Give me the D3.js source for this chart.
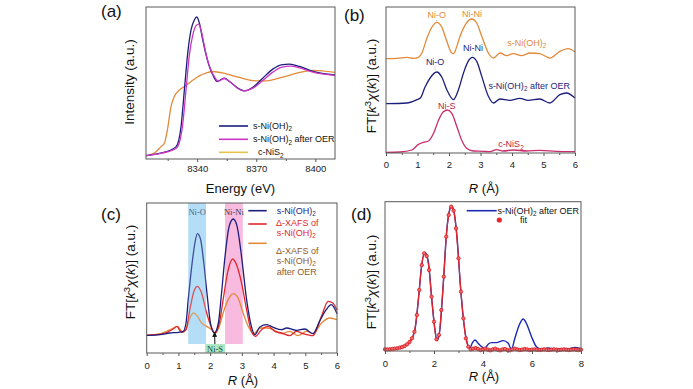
<!DOCTYPE html>
<html>
<head>
<meta charset="utf-8">
<script src="https://cdn.jsdelivr.net/npm/d3@7"></script>
<style>
  body { margin: 0; background: #fff; }
  svg { display: block; font-family: Arial, 'Liberation Sans', sans-serif; white-space: pre; }
</style>
</head>
<body>
<svg id="fig" width="693" height="389"></svg>
<script>
'use strict';

// ---- (a) Ni K-edge XANES ----
var eNiOH = [8314, 8320.8, 8322.5, 8329.3, 8331.8, 8333.5, 8335.2, 8336.9, 8338.6, 8339.8, 8341.1, 8342.8, 8344.5, 8346.2, 8347.9, 8350.1, 8353.8, 8356.4, 8361.5, 8364, 8368.3, 8373.3, 8378.4, 8382.7, 8386.9, 8392, 8398.8, 8410];
var muNiOH = [10, 17, 19, 37, 97, 207, 317, 387, 417, 425, 407, 357, 312, 277, 252, 232, 242, 232, 209, 204, 215, 242, 269, 282, 284, 277, 262, 252];
var eNiOHOER = [8314, 8322.5, 8329.5, 8332.5, 8334.3, 8336, 8337.8, 8339.5, 8340.8, 8342, 8343.6, 8345.3, 8347, 8348.8, 8350.5, 8353.8, 8356.4, 8361.5, 8364, 8368.3, 8373.3, 8378.4, 8382.7, 8387.5, 8392, 8398.8, 8410];
var muNiOHOER = [10, 18, 33, 97, 205, 310, 372, 400, 404, 385, 340, 295, 266, 246, 233, 241, 232, 208, 204, 212, 235, 260, 274, 278, 273, 260, 250];
var eNiS2 = [8314, 8319.1, 8321.6, 8323.3, 8325, 8326.7, 8328.4, 8331, 8333.5, 8336.9, 8341.1, 8344.5, 8347.9, 8354.7, 8361.5, 8370, 8375.1, 8383.5, 8392, 8398.8, 8410];
var muNiS2 = [10, 22, 37, 47, 92, 157, 187, 207, 217, 232, 249, 257, 262, 255, 244, 234, 234, 245, 259, 265, 259];
var ticksA = [8340, 8370, 8400];
var minorA = [8325, 8355, 8385];

// ---- (b) FT-EXAFS, stacked ----
var rNiOH = [0, 0.35, 0.66, 0.88, 1.03, 1.14, 1.30, 1.46, 1.61, 1.77, 1.93, 2.09, 2.14, 2.19, 2.35, 2.54, 2.72, 2.88, 3.04, 3.25, 3.41, 3.62, 3.83, 4.04, 4.30, 4.57, 4.88, 5.20, 5.52, 5.78, 6.0];
var ftNiOH = [283, 284, 287, 284, 287, 300, 345, 378, 392, 378, 335, 300, 298, 305, 350, 388, 402, 390, 350, 300, 285, 300, 292, 298, 292, 300, 298, 285, 305, 313, 303];
var rNiOHOER = [0, 0.66, 0.98, 1.09, 1.24, 1.40, 1.61, 1.77, 1.93, 2.14, 2.30, 2.46, 2.62, 2.74, 2.88, 3.04, 3.25, 3.41, 3.62, 3.93, 4.25, 4.51, 4.88, 5.20, 5.52, 5.73, 6.0];
var ftNiOHOER = [148, 150, 160, 165, 198, 225, 243, 228, 190, 160, 190, 240, 277, 287, 275, 230, 170, 150, 162, 158, 164, 158, 162, 150, 175, 180, 165];
var rNiS2 = [0, 0.45, 0.82, 1.03, 1.19, 1.35, 1.51, 1.67, 1.82, 1.95, 2.09, 2.25, 2.40, 2.56, 2.77, 3.09, 3.30, 3.51, 3.72, 4.04, 4.46, 4.88, 5.41, 6.0];
var ftNiS2 = [2, 3, 9, 26, 32, 36, 59, 99, 124, 129, 119, 79, 39, 14, 6, 5, 4, 10, 6, 9, 6, 8, 5, 4];
var ticksR6 = [0, 1, 2, 3, 4, 5, 6];
var minorR6 = [0.5, 1.5, 2.5, 3.5, 4.5, 5.5];

// ---- (c) FT-EXAFS and delta-XAFS ----
var rCNiOH = [0, 0.42, 0.73, 1.0, 1.15, 1.24, 1.31, 1.42, 1.52, 1.60, 1.70, 1.80, 1.91, 2.01, 2.13, 2.26, 2.36, 2.47, 2.60, 2.73, 2.85, 2.99, 3.15, 3.30, 3.41, 3.57, 3.78, 3.99, 4.25, 4.41, 4.72, 4.98, 5.24, 5.45, 5.66, 5.82, 6.0];
var ftCNiOH = [53, 55, 60, 62, 65, 90, 160, 260, 330, 358, 340, 270, 170, 90, 60, 90, 180, 290, 380, 402, 380, 290, 160, 80, 55, 78, 85, 77, 70, 75, 68, 72, 58, 95, 130, 145, 118];
var rCDelta = [0, 0.42, 0.84, 0.95, 1.10, 1.24, 1.36, 1.49, 1.60, 1.73, 1.89, 2.05, 2.15, 2.29, 2.41, 2.57, 2.71, 2.85, 2.99, 3.15, 3.30, 3.43, 3.62, 3.83, 4.04, 4.25, 4.51, 4.72, 4.93, 5.24, 5.51, 5.72, 5.87, 6.0];
var ftCDelta = [53, 56, 72, 80, 62, 70, 130, 185, 200, 180, 120, 75, 60, 90, 160, 250, 282, 260, 210, 130, 65, 50, 70, 80, 65, 60, 52, 65, 58, 52, 110, 155, 150, 128];
var rCDeltaOER = [0, 0.42, 0.84, 0.97, 1.14, 1.24, 1.34, 1.47, 1.59, 1.73, 1.89, 2.05, 2.15, 2.29, 2.41, 2.57, 2.73, 2.88, 3.04, 3.20, 3.38, 3.57, 3.78, 3.99, 4.25, 4.51, 4.77, 5.04, 5.24, 5.51, 5.77, 6.0];
var ftCDeltaOER = [53, 58, 75, 80, 62, 70, 100, 120, 112, 90, 80, 70, 58, 80, 120, 160, 178, 165, 120, 80, 58, 75, 75, 70, 58, 65, 52, 65, 58, 90, 105, 100];
var bandsC = [
  { name: 'Ni-O', r0: 1.31, r1: 1.87, top: true, fill: '#aedcf6' },
  { name: 'Ni-Ni', r0: 2.47, r1: 3.03, top: true, fill: '#f8b2dc' },
  { name: 'Ni-S', r0: 1.84, r1: 2.47, top: false, fill: '#a4e4bd' }
];

// ---- (d) EXAFS fit ----
var rDData = [0, 0.34, 0.75, 1.02, 1.22, 1.36, 1.49, 1.63, 1.77, 1.90, 2.04, 2.13, 2.24, 2.38, 2.51, 2.62, 2.72, 2.83, 2.95, 3.08, 3.22, 3.36, 3.46, 3.57, 3.67, 3.80, 3.94, 4.08, 4.21, 4.35, 4.55, 4.82, 5.03, 5.16, 5.30, 5.48, 5.64, 5.77, 5.98, 6.18, 6.39, 6.66, 6.93, 7.2, 7.54, 7.74, 8.0];
var ftDData = [5, 5, 13, 28, 63, 153, 253, 296, 268, 163, 63, 31, 63, 203, 353, 418, 435, 413, 333, 193, 83, 23, 8, 25, 33, 23, 13, 8, 20, 25, 25, 31, 23, 5, 38, 78, 96, 83, 43, 13, 5, 9, 5, 7, 7, 11, 7];
var rDFit = d3.range(0, 8.001, 0.1);
var ftDFit = [5, 5, 5, 6, 7, 8, 10, 12, 15, 20, 27, 38, 58, 108, 183, 258, 293, 285, 243, 163, 88, 35, 48, 123, 223, 343, 408, 433, 421, 368, 278, 178, 98, 38, 13, 5, 7, 9, 6, 3, 5, 7, 4, 2, 5, 7, 4, 2, 5, 6, 3, 2, 5, 7, 5, 3, 4, 6, 5, 3, 4, 5, 4, 3, 4, 5, 4, 3, 4, 5, 4, 3, 4, 5, 4, 3, 4, 5, 4, 3, 4];
var ticksR8 = [0, 2, 4, 6, 8];
var minorR8 = [1, 3, 5, 7];

var NAVY = '#1c1e7c';
var MAGENTA = '#cc35c4';
var ORANGE = '#e38a3a';
var CRIMSON = '#c92d6c';
var RED = '#e3262b';
var BLUE = '#1b2ab4';

var svg = d3.select('#fig');

// small markup: _x subscript, ^x superscript, *..* italic
function rich(sel, str, size) {
  var shift = 0, italic = false, i = 0;
  while (i < str.length) {
    var c = str[i], mode = 'n', chunk = '';
    if (c === '*') { italic = !italic; i++; continue; }
    if (c === '_' || c === '^') { mode = c; chunk = str[i + 1]; i += 2; }
    else {
      while (i < str.length && '*_^'.indexOf(str[i]) < 0) { chunk += str[i]; i++; }
    }
    var target = mode === '_' ? size * 0.28 : mode === '^' ? -size * 0.38 : 0;
    var t = sel.append('tspan').text(chunk).attr('dy', target - shift);
    shift = target;
    if (mode !== 'n') t.attr('font-size', size * 0.7);
    if (italic) t.attr('font-style', 'italic');
  }
}

function label(g, x, y, str, size, color, anchor, family) {
  var t = g.append('text')
      .attr('x', x)
      .attr('y', y + size * 0.35)
      .attr('font-size', size)
      .attr('fill', color)
      .attr('text-anchor', anchor || 'start');
  if (family) t.attr('font-family', family);
  rich(t, str, size);
  return t;
}

function vlabel(g, x, y, str, size) {
  var t = g.append('text')
      .attr('transform', 'translate(' + x + ',' + y + ') rotate(-90)')
      .attr('y', size * 0.35)
      .attr('font-size', size)
      .attr('fill', '#111')
      .attr('text-anchor', 'middle');
  rich(t, str, size);
}

function panel(xDomain, xRange, yDomain, yRange, major, minor, pad) {
  var x = d3.scaleLinear().domain(xDomain).range(xRange);
  var y = d3.scaleLinear().domain(yDomain).range(yRange);
  var g = svg.append('g');
  var back = g.append('g');
  var plot = g.append('g');

  var ax = g.append('g')
      .attr('transform', 'translate(0,' + yRange[0] + ')')
      .call(d3.axisBottom(x).tickValues(major).tickSize(3).tickPadding(pad).tickFormat(d3.format('d')));
  ax.select('.domain').remove();
  ax.selectAll('line').attr('stroke', '#555');
  ax.selectAll('text').attr('font-size', 9.5).attr('fill', '#222')
      .attr('font-family', 'Arial, "Liberation Sans", sans-serif');

  var mx = g.append('g')
      .attr('transform', 'translate(0,' + yRange[0] + ')')
      .call(d3.axisBottom(x).tickValues(minor).tickSize(2).tickFormat(''));
  mx.select('.domain').remove();
  mx.selectAll('line').attr('stroke', '#555');

  g.append('rect')
      .attr('x', xRange[0])
      .attr('y', yRange[1])
      .attr('width', xRange[1] - xRange[0])
      .attr('height', yRange[0] - yRange[1])
      .attr('fill', 'none')
      .attr('stroke', '#5a5a5a')
      .attr('stroke-width', 1);

  return { x: x, y: y, g: g, back: back, plot: plot };
}

function curve(p, xs, ys, color, width) {
  var line = d3.line()
      .x(function(d) { return p.x(d[0]); })
      .y(function(d) { return p.y(d[1]); })
      .curve(d3.curveMonotoneX);
  return p.plot.append('path')
      .attr('d', line(d3.zip(xs, ys)))
      .attr('fill', 'none')
      .attr('stroke', color)
      .attr('stroke-width', width || 1.3)
      .attr('stroke-linejoin', 'round');
}

function legendLine(g, x0, x1, y, color) {
  g.append('line')
      .attr('x1', x0).attr('x2', x1).attr('y1', y).attr('y2', y)
      .attr('stroke', color).attr('stroke-width', 1.6);
}

// ---------------- (a) ----------------
var pa = panel([8314, 8410], [146, 335], [0, 455], [159, 7], ticksA, minorA, 3.7);
curve(pa, eNiS2, muNiS2, ORANGE);
curve(pa, eNiOH, muNiOH, NAVY);
curve(pa, eNiOHOER, muNiOHOER, MAGENTA);

legendLine(pa.g, 219, 248, 126, NAVY);
legendLine(pa.g, 219, 248, 139.3, MAGENTA);
legendLine(pa.g, 219, 248, 152.3, '#e8c24a');
label(pa.g, 253, 125.5, 's-Ni(OH)_2', 9, '#111');
label(pa.g, 253, 139, 's-Ni(OH)_2 after OER', 9, '#111');
label(pa.g, 258, 152, 'c-NiS_2', 9, '#111');

vlabel(svg, 129.5, 82, 'Intensity (a.u.)', 13.5);
label(svg, 240.5, 188.5, 'Energy (eV)', 13, '#111', 'middle');
label(svg, 101, 11.5, '(a)', 17, '#111');

// ---------------- (b) ----------------
var pb = panel([0, 6], [386, 575], [0, 438], [153, 7], ticksR6, minorR6, 5.7);
curve(pb, rNiOH, ftNiOH, ORANGE);
curve(pb, rNiOHOER, ftNiOHOER, NAVY);
curve(pb, rNiS2, ftNiS2, CRIMSON);

var annB = [
  { r: 1.61, v: 414, t: 'Ni-O', c: ORANGE, a: 'middle', tick: 392 },
  { r: 2.73, v: 417, t: 'Ni-Ni', c: ORANGE, a: 'middle', tick: 402 },
  { r: 3.85, v: 331, t: 's-Ni(OH)_2', c: ORANGE, a: 'start' },
  { r: 1.56, v: 274, t: 'Ni-O', c: NAVY, a: 'middle', tick: 243 },
  { r: 2.76, v: 316, t: 'Ni-Ni', c: NAVY, a: 'middle', tick: 287 },
  { r: 3.25, v: 202, t: 's-Ni(OH)_2 after OER', c: NAVY, a: 'start' },
  { r: 1.93, v: 141, t: 'Ni-S', c: '#b8243f', a: 'middle' },
  { r: 3.56, v: 26, t: 'c-NiS_2', c: '#b8243f', a: 'start' }
];
annB.forEach(function(d) {
  label(pb.g, pb.x(d.r), pb.y(d.v), d.t, 9, d.c, d.a);
  if (d.tick) {
    pb.g.append('line')
        .attr('x1', pb.x(d.r)).attr('x2', pb.x(d.r))
        .attr('y1', pb.y(d.v) + 5).attr('y2', pb.y(d.tick) - 1)
        .attr('stroke', '#aaa').attr('stroke-width', 0.8)
        .attr('stroke-dasharray', '1,1');
  }
});

vlabel(svg, 371, 86, 'FT[*k*^3*χ*(*k*)] (a.u.)', 13.5);
label(svg, 484, 188.5, '*R* (Å)', 13, '#111', 'middle');
label(svg, 344, 15, '(b)', 17, '#111');

// ---------------- (c) ----------------
var pc = panel([0, 6], [146.7, 337], [0, 450], [353, 203], ticksR6, minorR6, 6);
pc.back.selectAll('rect')
    .data(bandsC)
    .enter().append('rect')
      .attr('x', function(d) { return pc.x(d.r0); })
      .attr('width', function(d) { return pc.x(d.r1) - pc.x(d.r0); })
      .attr('y', function(d) { return d.top ? pc.y(450) : pc.y(27); })
      .attr('height', function(d) { return d.top ? pc.y(27) - pc.y(450) : pc.y(0) - pc.y(27); })
      .attr('fill', function(d) { return d.fill; })
      .attr('opacity', 0.9);
pc.back.selectAll('text')
    .data(bandsC)
    .enter().append('text')
      .attr('x', function(d) { return pc.x((d.r0 + d.r1) / 2); })
      .attr('y', function(d) { return d.top ? pc.y(424) + 3 : pc.y(12) + 3; })
      .attr('text-anchor', 'middle')
      .attr('font-size', 8.5)
      .attr('font-family', '"Liberation Serif", "Times New Roman", serif')
      .attr('fill', function(d) { return d.top ? '#2b3a55' : '#0d4a3a'; })
      .text(function(d) { return d.name; });

curve(pc, rCDeltaOER, ftCDeltaOER, ORANGE);
curve(pc, rCDelta, ftCDelta, RED);
curve(pc, rCNiOH, ftCNiOH, NAVY);

// overlay tint so the orange curve looks brownish through the Ni-O band
pc.plot.append('rect')
    .attr('x', pc.x(1.31)).attr('width', pc.x(1.87) - pc.x(1.31))
    .attr('y', pc.y(450)).attr('height', pc.y(27) - pc.y(450))
    .attr('fill', '#aedcf6').attr('opacity', 0.25);

svg.append('defs').append('marker')
    .attr('id', 'arrow')
    .attr('viewBox', '0 0 10 10')
    .attr('refX', 9).attr('refY', 5)
    .attr('markerWidth', 5).attr('markerHeight', 5)
    .attr('orient', 'auto')
  .append('path')
    .attr('d', 'M0,0L10,5L0,10z')
    .attr('fill', '#111');
pc.plot.append('line')
    .attr('x1', pc.x(2.15)).attr('x2', pc.x(2.14))
    .attr('y1', pc.y(27)).attr('y2', pc.y(62))
    .attr('stroke', '#111').attr('stroke-width', 1)
    .attr('marker-end', 'url(#arrow)');

legendLine(pc.g, 248.3, 266.7, 210.7, NAVY);
legendLine(pc.g, 248.3, 266.7, 224, RED);
legendLine(pc.g, 248.3, 266.7, 243.3, ORANGE);
label(pc.g, 276.7, 210.5, 's-Ni(OH)_2', 9, NAVY);
label(pc.g, 276, 223.3, 'Δ-XAFS of', 9, RED);
label(pc.g, 276.7, 232.5, 's-Ni(OH)_2', 9, RED);
label(pc.g, 276, 251, 'Δ-XAFS of', 9, '#8f5a2a');
label(pc.g, 276.7, 260.5, 's-Ni(OH)_2', 9, '#8f5a2a');
label(pc.g, 276.7, 271.5, 'after OER', 9, '#8f5a2a');

vlabel(svg, 130, 272, 'FT[*k*^3*χ*(*k*)] (a.u.)', 13.5);
label(svg, 243, 380.5, '*R* (Å)', 13, '#111', 'middle');
label(svg, 101, 214, '(c)', 17, '#111');

// ---------------- (d) ----------------
var pd = panel([0, 8], [385, 581], [0, 448], [351, 201.7], ticksR8, minorR8, 6.7);
curve(pd, rDData, ftDData, BLUE, 1.4);
curve(pd, rDFit, ftDFit, '#e3262b', 1.2);
pd.plot.selectAll('circle')
    .data(d3.zip(rDFit, ftDFit))
    .enter().append('circle')
      .attr('cx', function(d) { return pd.x(d[0]); })
      .attr('cy', function(d) { return pd.y(d[1]); })
      .attr('r', 1.7)
      .attr('fill', '#f46a6a')
      .attr('stroke', '#d8191f')
      .attr('stroke-width', 0.8);

legendLine(pd.g, 466.7, 496.7, 210.7, BLUE);
pd.g.append('circle').attr('cx', 499.3).attr('cy', 220).attr('r', 2.6).attr('fill', '#e8262b');
label(pd.g, 497.5, 210.5, 's-Ni(OH)_2 after OER', 9, '#111');
label(pd.g, 520, 220, 'fit', 9, '#111');

vlabel(svg, 371.5, 282, 'FT[*k*^3*χ*(*k*)] (a.u.)', 13.5);
label(svg, 484, 376, '*R* (Å)', 13, '#111', 'middle');
label(svg, 351, 214, '(d)', 17, '#111');
</script>
</body>
</html>
